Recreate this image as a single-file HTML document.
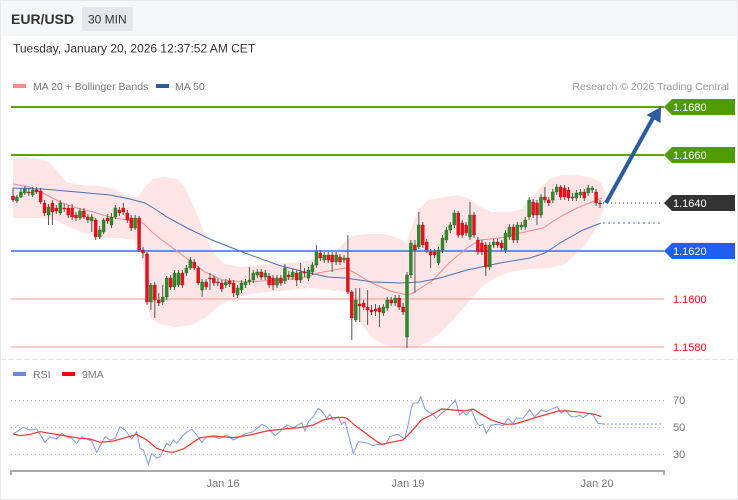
<!DOCTYPE html>
<html><head><meta charset="utf-8"><style>
html,body{margin:0;padding:0;background:#fff;}
svg{display:block;font-family:"Liberation Sans",Arial,sans-serif;}
</style></head><body>
<svg width="738" height="500" viewBox="0 0 738 500" xmlns="http://www.w3.org/2000/svg">
<rect x="0" y="0" width="738" height="500" fill="#fff"/>
<rect x="0" y="0" width="738" height="36" fill="#f6f7f8"/>
<rect x="0.5" y="0.5" width="737" height="499" fill="none" stroke="#e8e8ea"/>
<line x1="0" y1="359.5" x2="738" y2="359.5" stroke="#e4e4e6" stroke-dasharray="6,2"/>

<text x="11" y="24" font-size="14" font-weight="bold" fill="#333">EUR/USD</text>
<rect x="82" y="7" width="51" height="24" fill="#e5e7ea"/>
<text x="88" y="23.5" font-size="12" fill="#333">30 MIN</text>
<text x="13" y="52.5" font-size="12" fill="#333">Tuesday, January 20, 2026 12:37:52 AM CET</text>

<rect x="13" y="84" width="13" height="4" fill="#ff8c8c"/>
<text x="33" y="90" font-size="10.5" fill="#777">MA 20 + Bollinger Bands</text>
<rect x="156" y="84" width="13" height="4" fill="#2f5b9a"/>
<text x="175" y="90" font-size="10.5" fill="#777">MA 50</text>
<text x="729" y="90" font-size="10.5" fill="#999" text-anchor="end">Research © 2026 Trading Central</text>

<!-- Bollinger band -->
<polygon fill="#ffe5e5" points="13,157 25,157 40,159 50,163 58,172 66,182 80,185 100,186 115,189 128,197 138,197 145,187 152,179 165,177 178,179 185,188 192,203 200,222 208,242 216,256 225,264 240,267 260,265 280,263 300,262 320,258 335,252 345,242 352,236 365,234 385,234 398,238 406,243 410,232 418,210 428,200 445,197 458,195 470,199 480,207 492,212 510,212 522,209 530,199 540,188 550,179 562,175 578,175 592,178 601,183 605,192 605,200 603,212 595,230 585,245 575,255 565,264 550,268 530,269 510,272 495,278 485,284 470,300 455,318 440,333 428,342 415,348 400,347 385,345 372,338 362,325 352,308 345,292 330,290 310,288 290,290 270,292 250,294 235,298 220,305 205,318 192,325 175,327 160,324 150,318 146,295 142,258 135,240 120,238 100,238 85,233 70,228 55,220 40,218 25,218 13,218"/>

<!-- Level lines -->
<line x1="11" y1="107" x2="664" y2="107" stroke="#58a40a" stroke-width="2"/>
<line x1="11" y1="155" x2="664" y2="155" stroke="#58a40a" stroke-width="2"/>
<line x1="11" y1="251" x2="664" y2="251" stroke="#3a6ee0" stroke-width="1.5"/>
<line x1="11" y1="299" x2="664" y2="299" stroke="#f29a9a" stroke-width="1"/>
<line x1="11" y1="347" x2="664" y2="347" stroke="#f29a9a" stroke-width="1"/>

<!-- MA lines -->
<polyline fill="none" stroke="#ff8a8a" stroke-width="1" points="13,184 30,187 43,193 60,202 77,208 93,212 110,217 127,220 143,223 152,232 162,240 185,257 205,272 222,280 245,282 278,280 302,278 318,273 345,268 355,273 370,282 390,291 407,295 413,293 433,280 450,262 467,248 480,240 500,238 520,233 543,228 560,217 577,208 597,200 602,198"/>
<polyline fill="none" stroke="#4a6fb8" stroke-width="1" points="13,188 43,189 77,192 110,195 130,199 145,203 155,209 167,217 187,228 212,240 245,253 278,265 305,272 328,277 345,278 373,282 400,283 420,282 440,278 467,270 500,263 530,258 545,253 560,243 583,230 601,223"/>
<line x1="603" y1="223" x2="663" y2="223" stroke="#4a6fb8" stroke-width="1" stroke-dasharray="2,3"/>
<line x1="603" y1="203" x2="663" y2="203" stroke="#333" stroke-width="1" stroke-dasharray="1,3"/>

<!-- Candle wicks -->
<path fill="none" stroke="#555" stroke-width="1" d="M13 188V202M16.9 195V203M20.9 188V198M24.8 186V195M28.8 188V196M32.7 187V197M36.6 187V194M40.6 188V204M44.5 200V216M48.5 204V225M52.4 200V225M56.3 205V214M60.3 200V215M64.2 204V212M68.2 205V218M72.1 204V220M76 212V221M80 208V220M83.9 208V219M87.9 214V223M91.8 214V232M95.7 218V240M99.7 226V239M103.6 218V234M107.6 214V224M111.5 213V228M115.4 205V219M119.4 207V216M123.3 203V215M127.3 210V223M131.2 215V231M135.1 215V230M139.1 216V252M143 247V258M147 252V305M150.9 283V310M154.8 282V318M158.8 293V306M162.7 285V305M166.7 276V300M170.6 275V290M174.5 270V290M178.5 270V287M182.4 270V288M186.4 265V276M190.3 257V270M194.2 259V270M198.2 266V285M202.1 279V297M206.1 279V290M210 273V290M213.9 275V286M217.9 279V286M221.8 280V292M225.8 279V288M229.7 278V287M233.6 280V297M237.6 285V298M241.5 280V293M245.5 279V288M249.4 267V285M253.3 270V283M257.3 269V278M261.2 269V280M265.2 270V280M269.1 273V288M273 275V290M277 275V288M280.9 275V286M284.9 264V284M288.8 271V280M292.7 269V280M296.7 270V286M300.6 263V283M304.6 268V277M308.5 267V281M312.4 262V275M316.4 245V268M320.3 250V261M324.3 252V263M328.2 252V263M332.1 252V272M336.1 252V265M340 254V265M344 255V263M347.9 235V294M351.8 290V340M355.8 288V322M359.7 288V322M363.7 300V310M367.6 290V325M371.5 305V315M375.5 304V316M379.4 305V327M383.4 304V316M387.3 297V311M391.2 297V306M395.2 295V306M399.1 295V310M403.1 303V315M407 272V348M410.9 240V278M414.9 240V293M418.8 212V249M422.8 222V248M426.7 239V253M430.6 249V268M434.6 249V258M438.5 247V265M442.5 235V253M446.4 227V243M450.3 222V233M454.3 210V228M458.2 211V238M462.2 220V238M466.1 222V236M470 202V240M474 212V238M477.9 237V255M481.9 240V255M485.8 242V276M489.7 242V270M493.7 239V248M497.6 239V248M501.6 240V251M505.5 230V253M509.4 224V240M513.4 224V243M517.3 222V243M521.3 222V230M525.2 217V230M529.1 197V220M533.1 199V218M537 200V225M541 194V218M544.9 187V203M548.8 197V206M552.8 189V203M556.7 184V195M560.7 185V200M564.6 185V200M568.5 187V201M572.5 193V201M576.4 190V201M580.4 189V198M584.3 189V201M588.2 185V196M592.2 186V193M596.1 189V206M600 200V208"/>

<!-- Green bodies -->
<path fill="#2e8a2a" stroke="#1f6a1c" stroke-width="0.4" d="M15.4 197h3v4h-3zM19.4 192h3v5h-3zM23.3 189h3v4h-3zM31.2 190h3v5h-3zM47 207h3v8h-3zM58.8 203h3v10h-3zM78.5 211h3v7h-3zM90.3 217h3v4h-3zM98.2 230h3v7h-3zM102.1 220h3v12h-3zM110 217h3v8h-3zM113.9 208h3v9h-3zM133.6 218h3v10h-3zM149.4 285h3v17h-3zM161.2 297h3v5h-3zM165.2 278h3v19h-3zM173 273h3v14h-3zM177 273h3v12h-3zM184.9 268h3v5h-3zM188.8 260h3v8h-3zM200.6 282h3v8h-3zM224.3 282h3v3h-3zM236.1 288h3v7h-3zM240 283h3v7h-3zM244 282h3v3h-3zM247.9 280h3v2h-3zM251.8 273h3v7h-3zM255.8 272h3v3h-3zM263.7 273h3v4h-3zM275.5 278h3v7h-3zM283.4 268h3v13h-3zM291.2 272h3v5h-3zM299.1 272h3v8h-3zM307 270h3v8h-3zM310.9 265h3v7h-3zM314.9 252h3v13h-3zM322.8 255h3v5h-3zM334.6 255h3v7h-3zM342.5 258h3v2h-3zM354.3 300h3v20h-3zM381.9 307h3v6h-3zM385.8 300h3v8h-3zM393.7 298h3v5h-3zM405.5 275h3v62h-3zM409.4 243h3v32h-3zM417.3 225h3v22h-3zM437 250h3v13h-3zM441 238h3v12h-3zM444.9 230h3v10h-3zM448.8 225h3v5h-3zM452.8 213h3v12h-3zM468.5 215h3v22h-3zM488.2 245h3v22h-3zM492.2 242h3v3h-3zM504 233h3v17h-3zM507.9 227h3v10h-3zM515.8 225h3v15h-3zM519.8 225h3v2h-3zM523.7 220h3v7h-3zM527.6 200h3v17h-3zM539.5 197h3v18h-3zM551.3 192h3v8h-3zM555.2 187h3v5h-3zM574.9 193h3v5h-3zM578.9 192h3v3h-3zM586.7 188h3v5h-3zM590.7 188h3v2h-3z"/>

<!-- Red bodies -->
<path fill="#e8101a" stroke="#b00c12" stroke-width="0.4" d="M11.5 196h3v4h-3zM27.3 192h3v1h-3zM35.1 190h3v2h-3zM39.1 191h3v11h-3zM43 203h3v10h-3zM50.9 203h3v9h-3zM54.8 208h3v3h-3zM62.7 208h3v1h-3zM66.7 208h3v7h-3zM70.6 208h3v9h-3zM74.5 215h3v3h-3zM82.4 211h3v6h-3zM86.4 217h3v3h-3zM94.2 220h3v17h-3zM106.1 218h3v3h-3zM117.9 210h3v3h-3zM121.8 208h3v4h-3zM125.8 213h3v7h-3zM129.7 218h3v10h-3zM137.6 218h3v32h-3zM141.5 250h3v3h-3zM145.5 254h3v48h-3zM153.3 285h3v15h-3zM157.3 300h3v3h-3zM169.1 278h3v9h-3zM180.9 273h3v12h-3zM192.7 262h3v6h-3zM196.7 268h3v15h-3zM204.6 282h3v5h-3zM208.5 278h3v1h-3zM212.4 278h3v5h-3zM216.4 282h3v1h-3zM220.3 283h3v6h-3zM228.2 281h3v3h-3zM232.1 283h3v10h-3zM259.7 272h3v5h-3zM267.6 276h3v9h-3zM271.5 278h3v7h-3zM279.4 278h3v5h-3zM287.3 275h3v2h-3zM295.2 273h3v7h-3zM303.1 272h3v1h-3zM318.8 253h3v5h-3zM326.7 255h3v5h-3zM330.6 255h3v7h-3zM338.5 257h3v5h-3zM346.4 258h3v34h-3zM350.3 292h3v26h-3zM358.2 304h3v2h-3zM362.2 303h3v4h-3zM366.1 307h3v3h-3zM370 310h3v2h-3zM374 309h3v2h-3zM377.9 308h3v4h-3zM389.7 300h3v3h-3zM397.6 298h3v9h-3zM401.6 307h3v5h-3zM413.4 245h3v5h-3zM421.3 225h3v20h-3zM425.2 242h3v8h-3zM429.1 252h3v3h-3zM433.1 252h3v3h-3zM456.7 213h3v22h-3zM460.7 223h3v12h-3zM464.6 225h3v8h-3zM472.5 215h3v20h-3zM476.4 240h3v12h-3zM480.4 243h3v9h-3zM484.3 245h3v22h-3zM496.1 242h3v3h-3zM500.1 243h3v5h-3zM511.9 227h3v13h-3zM531.6 202h3v13h-3zM535.5 203h3v12h-3zM543.4 197h3v3h-3zM547.3 200h3v3h-3zM559.2 187h3v10h-3zM563.1 188h3v9h-3zM567 190h3v8h-3zM571 197h3v1h-3zM582.8 192h3v6h-3zM594.6 192h3v11h-3zM598.5 203h3v1h-3z"/>

<!-- Arrow -->
<line x1="606" y1="203" x2="653" y2="118" stroke="#2d5b9e" stroke-width="4"/>
<polygon fill="#2d5b9e" points="661,107 660.5,123 646.5,115"/>

<!-- Tags -->
<polygon fill="#4e9c00" points="664,107 672,99 735,99 735,115 672,115"/>
<text x="673" y="111" font-size="11" fill="#fff">1.1680</text>
<polygon fill="#4e9c00" points="664,155 672,147 735,147 735,163 672,163"/>
<text x="673" y="159" font-size="11" fill="#fff">1.1660</text>
<polygon fill="#333" points="664,203 672,195 735,195 735,211 672,211"/>
<text x="673" y="207" font-size="11" fill="#fff">1.1640</text>
<polygon fill="#1f5ef0" points="664,251 672,243 735,243 735,259 672,259"/>
<text x="673" y="255" font-size="11" fill="#fff">1.1620</text>
<text x="673" y="303" font-size="11" fill="#e8101a">1.1600</text>
<text x="673" y="351" font-size="11" fill="#e8101a">1.1580</text>

<!-- RSI panel -->
<rect x="13" y="372" width="13" height="4" fill="#6b8be0"/>
<text x="33" y="378" font-size="10.5" fill="#777">RSI</text>
<rect x="62" y="372" width="13" height="4" fill="#f20000"/>
<text x="82" y="378" font-size="10.5" fill="#777">9MA</text>

<g stroke="#b8b8b8" stroke-width="1" stroke-dasharray="1,3">
<line x1="11" y1="400.5" x2="664" y2="400.5"/>
<line x1="11" y1="427.5" x2="664" y2="427.5"/>
<line x1="11" y1="454.5" x2="664" y2="454.5"/>
</g>
<text x="673" y="404" font-size="11" fill="#777">70</text>
<text x="673" y="431" font-size="11" fill="#777">50</text>
<text x="673" y="458" font-size="11" fill="#777">30</text>

<polyline fill="none" stroke="#7f9be8" stroke-width="1" points="13.3,434 23.3,427.3 30,430 36.7,429 45,442.3 50,436.7 56.7,439 61.7,433.3 66.7,436.7 71.7,438.3 76.7,443.3 81.7,436.7 86.7,439 91.7,441 96.7,452.3 105,436.7 110,440 115,438.3 120,426.7 125,430 131.7,439 136.7,431.7 140,448.3 143.3,450 148.3,464.3 151.7,453.3 156.7,458.3 160,456.7 166.7,443.3 170,445.7 173.3,440 176.7,443.3 183.3,435 191.7,429 196.7,435 201.7,442.3 206.7,436.7 213.3,436.7 220,438.3 226.7,435 233.3,440 240,436.7 246.7,433.3 253.3,431.7 261.7,424.3 266.7,426.7 275,435.7 281.7,430 286.7,425 293.3,427.7 298.3,425 301.7,422.7 305,431 308.3,421.7 313.3,416.7 318.3,408.3 321.7,411 326.7,418.3 330,414.3 333.3,420 338.3,416.7 341.7,424.3 345,421.7 353.3,453.3 358.3,441.7 363.3,442.3 368,443.3 373,445.7 378,444.3 383,445 386.3,443.3 389.7,436.7 394.7,435 398,434.3 401.3,436.7 404.7,439 408,425 411.3,408.3 413,403.3 418,402.7 420.7,396.7 424.7,408.3 428,411.7 431.3,413.3 436.3,418.3 441.3,413.3 446.3,410 449.7,406.7 455.3,400 459.7,415 463,411.7 466.3,415 471.3,410 476.3,421.7 479.7,425.7 483,424.3 486.3,433.3 491.3,425 498,424.3 503,425.7 508,418.3 513,423.3 516.3,418.3 523,418.3 529.7,410 534.7,416.7 541.3,410 546.3,411.7 549.7,410 557.3,406.7 561.3,413.3 565.3,410 571.3,416.7 576.3,416.7 579.7,415 583,417.7 589.7,413.3 593,415 598,423.3 603,424"/>
<line x1="603" y1="424" x2="663" y2="424" stroke="#7f9be8" stroke-width="1" stroke-dasharray="2,2"/>
<polyline fill="none" stroke="#ff3030" stroke-width="1.2" points="13.3,434 20,435.7 30,434.3 40,431.7 50,433.3 60,435 70,436.7 80,438.3 90,439 100,442.3 113.3,441 123.3,438.3 136.7,434.3 146.7,440 156.7,448.3 166.7,451.7 173.3,452.3 183.3,449 193.3,442.3 200,437.7 213.3,436 233.3,437.7 250,435 266.7,431 283.3,429 300,427.7 313.3,425 323.3,420 333.3,417.7 343.3,417.3 346.7,418.3 356.7,426.7 368,435 374.7,440 381.3,444.3 391.3,442.3 403,440 411.3,431.7 421.3,420 431.3,415 441.3,409 454.7,410 464.7,411 473,409 481.3,414.3 491.3,420 504.7,424.3 514.7,424 524.7,421 534.7,417.7 544.7,415 558,411 568,411 581.3,412.3 594.7,414.3 601.3,416.7"/>

<!-- X axis -->
<path fill="none" stroke="#aaa" stroke-width="2" d="M11 475V471H664V475"/>
<text x="223" y="487" font-size="11" fill="#777" text-anchor="middle">Jan 16</text>
<text x="408" y="487" font-size="11" fill="#777" text-anchor="middle">Jan 19</text>
<text x="597" y="487" font-size="11" fill="#777" text-anchor="middle">Jan 20</text>
</svg>
</body></html>
